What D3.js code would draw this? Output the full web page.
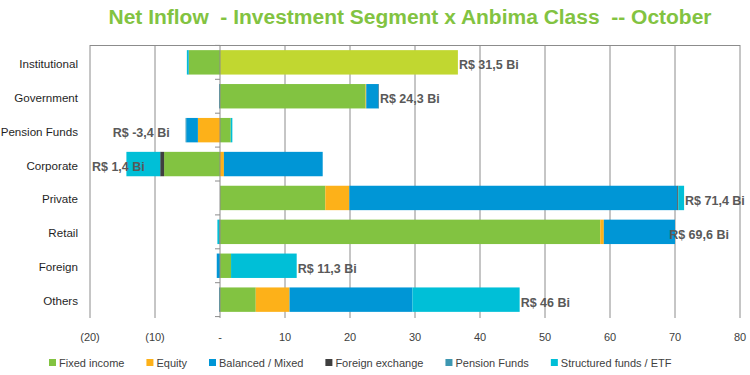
<!DOCTYPE html>
<html>
<head>
<meta charset="utf-8">
<script src="https://cdn.jsdelivr.net/npm/d3@7"></script>
<style>
  body { margin: 0; background: #fff; }
  svg { display: block; font-family: "Liberation Sans", Arial, sans-serif; }
</style>
</head>
<body>
<div id="chart"></div>
<script>
// segments (rows, top to bottom)
const segments = ["Institutional", "Government", "Pension Funds", "Corporate", "Private", "Retail", "Foreign", "Others"];

// net inflow by Anbima class, R$ billions
const fixedIncome = [-4.8, 22.4, 1.65, -8.6, 16.2, 58.5, 1.7, 5.5];
const equity      = [0, 0.1, -3.4, 0.6, 3.7, 0.55, 0, 5.2];
const balanced    = [-0.1, 1.9, -1.8, 15.2, 50.45, 10.95, -0.5, 18.9];
const foreignExch = [0, 0.05, 0, -0.6, 0.15, -0.1, 0, 0];
const pensionFund = [0, -0.15, -0.1, 0, 0, 0, 0, -0.15];
const structured  = [-0.2, 0, 0.25, -5.2, 0.9, -0.3, 10.1, 16.5];
const otherClass  = [36.6, 0, 0, 0, 0, 0, 0, 0];   // extra series with no legend entry

const totalLabels = ["R$ 31,5 Bi", "R$ 24,3 Bi", "R$ -3,4 Bi", "R$ 1,4 Bi", "R$ 71,4 Bi", "R$ 69,6 Bi", "R$ 11,3 Bi", "R$ 46 Bi"];

const xTicks = [-20, -10, 0, 10, 20, 30, 40, 50, 60, 70, 80];

const series = [
  { name: "Fixed income",          values: fixedIncome, color: "#82c341", legend: true },
  { name: "Equity",                values: equity,      color: "#fdb119", legend: true },
  { name: "Balanced / Mixed",      values: balanced,    color: "#0096d6", legend: true },
  { name: "Foreign exchange",      values: foreignExch, color: "#3f3f3f", legend: true },
  { name: "Pension Funds",         values: pensionFund, color: "#3d97b1", legend: true },
  { name: "Structured funds / ETF", values: structured, color: "#00bfd7", legend: true },
  { name: "Other",                 values: otherClass,  color: "#c1d730", legend: false }
];

// labels that were hand-placed in the original (start position in axis units)
const labelStartAt = { "Pension Funds": -16.5, "Corporate": -19.7, "Retail": 69.1 };

const width = 750, height = 375;
const svg = d3.select("#chart").append("svg")
    .attr("width", width)
    .attr("height", height);

const x = d3.scaleLinear().domain([-20, 80]).range([90, 740]);
const y = d3.scaleBand().domain(segments).range([45.4, 316.6])
    .paddingInner(0.28).paddingOuter(0.14);

const rows = segments.map((s, i) => {
  const r = { segment: s };
  series.forEach(se => r[se.name] = se.values[i]);
  return r;
});

const stacked = d3.stack()
    .keys(series.map(s => s.name))
    .offset(d3.stackOffsetDiverging)(rows);

// title
svg.append("text")
    .attr("x", 410)
    .attr("y", 24)
    .attr("text-anchor", "middle")
    .attr("font-size", 20)
    .attr("font-weight", "bold")
    .attr("fill", "#82c341")
    .attr("textLength", 603)
    .attr("lengthAdjust", "spacingAndGlyphs")
    .style("white-space", "pre")
    .text("Net Inflow  - Investment Segment x Anbima Class  -- October");

// gridlines
svg.append("g").selectAll("line")
  .data(xTicks.filter(t => t !== 0))
  .join("line")
    .attr("x1", d => x(d)).attr("x2", d => x(d))
    .attr("y1", 45).attr("y2", 318)
    .attr("stroke", "#8c8c8c")
    .attr("stroke-width", 1);

svg.append("line")
    .attr("x1", x(-20)).attr("x2", x(80))
    .attr("y1", 45.5).attr("y2", 45.5)
    .attr("stroke", "#8c8c8c");

// bars
svg.append("g").selectAll("g")
  .data(stacked)
  .join("g")
    .attr("fill", (d, i) => series[i].color)
  .selectAll("rect")
  .data(d => d)
  .join("rect")
    .attr("x", d => x(Math.min(d[0], d[1])))
    .attr("width", d => Math.abs(x(d[1]) - x(d[0])))
    .attr("y", d => y(d.data.segment))
    .attr("height", y.bandwidth());

// zero axis with ticks between categories
const zero = svg.append("g").attr("stroke", "#8c8c8c");
zero.append("line")
    .attr("x1", x(0)).attr("x2", x(0))
    .attr("y1", 45).attr("y2", 318);
const bounds = d3.range(segments.length + 1).map(i => 45.4 + i * y.step());
zero.selectAll(".tk")
  .data(bounds)
  .join("line")
    .attr("class", "tk")
    .attr("x1", x(0) - 5).attr("x2", x(0))
    .attr("y1", d => d).attr("y2", d => d);

// category labels
svg.append("g").selectAll("text")
  .data(segments)
  .join("text")
    .attr("x", 78)
    .attr("y", d => y(d) + y.bandwidth() / 2 + 5.5)
    .attr("text-anchor", "end")
    .attr("font-size", 11.6)
    .attr("fill", "#1f1f1f")
    .text(d => d);

// x tick labels
svg.append("g").selectAll("text")
  .data(xTicks)
  .join("text")
    .attr("x", d => x(d))
    .attr("y", 341)
    .attr("text-anchor", "middle")
    .attr("font-size", 11)
    .attr("fill", "#404040")
    .text(d => d < 0 ? "(" + Math.abs(d) + ")" : d === 0 ? "-" : d);

// total labels
const posEnd = segments.map((s, i) => d3.sum(series, se => Math.max(0, se.values[i])));
svg.append("g").selectAll("text")
  .data(segments)
  .join("text")
    .attr("x", (d, i) => labelStartAt[d] !== undefined ? x(labelStartAt[d]) : x(posEnd[i]) + 1)
    .attr("y", d => y(d) + y.bandwidth() / 2 + 7)
    .attr("font-size", 12.5)
    .attr("font-weight", "bold")
    .attr("fill", "#595959")
    .text((d, i) => totalLabels[i]);

// legend
const legendItems = series.filter(s => s.legend);
const legend = svg.append("g").attr("font-size", 11).attr("fill", "#404040");
let lx = 49;
legendItems.forEach(s => {
  const g = legend.append("g").attr("transform", `translate(${lx},0)`);
  g.append("rect")
      .attr("x", 0).attr("y", 359)
      .attr("width", 7).attr("height", 7)
      .attr("fill", s.color);
  const t = g.append("text")
      .attr("x", 10).attr("y", 366.5)
      .text(s.name);
  lx += 10 + t.node().getComputedTextLength() + 22;
});
</script>
</body>
</html>
